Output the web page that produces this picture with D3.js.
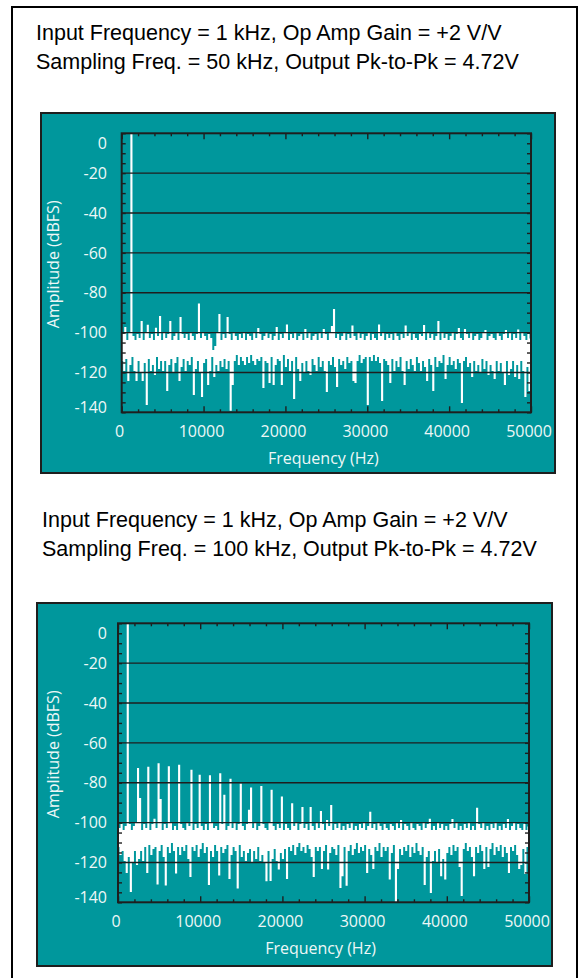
<!DOCTYPE html>
<html>
<head>
<meta charset="utf-8">
<script src="https://cdn.jsdelivr.net/npm/d3@7"></script>
<style>
  body { margin: 0; background: #fff; }
  .title { font-family: "Liberation Sans", Arial, sans-serif; font-size: 21.5px; fill: #000; }
  .axisText { font-family: "Open Sans", sans-serif; font-size: 16px; fill: #eef7f7; }
</style>
</head>
<body>
<div id="chart"></div>
<script>
// FFT bin spacing (Hz) for both captures, 400 bins from 0 to 49875 Hz
var binHz = 125;

var xTicks = [0, 10000, 20000, 30000, 40000, 50000];
var yTicks = [0, -20, -40, -60, -80, -100, -120, -140];
var gridLines = [-20, -40, -60, -80, -100, -120];

var titleTop = ["Input Frequency = 1 kHz, Op Amp Gain = +2 V/V",
                "Sampling Freq. = 50 kHz, Output Pk-to-Pk = 4.72V"];
var titleBottom = ["Input Frequency = 1 kHz, Op Amp Gain = +2 V/V",
                   "Sampling Freq. = 100 kHz, Output Pk-to-Pk = 4.72V"];

// amplitude (dBFS) per bin, 50 kHz capture (20 bins = 2.5 kHz per row)
var amp50k = [
  -114,-101,-119,-97.5,-113,-104,-124,-100.5,-116,0,-112,-102,-119,-104,-124,-101,-114,-103,-120,-94.5,
  -124,-104,-115,-100.5,-136,-96.3,-113,-103,-119,-101,-116,-104,-121,-97.8,-112,-102,-118,-92,-114,-104,
  -119,-100.5,-114,-103,-129,-101,-116,-94.5,-113,-104,-120,-102,-115,-100.5,-112,-104,-124,-92.5,-117,-101,
  -113,-103,-119,-101,-114,-104,-116,-100.5,-112,-102,-131,-104,-118,-101,-114,-85.7,-120,-103,-132,-100.5,
  -115,-102,-113,-104,-126,-101,-119,-103,-112,-109,-122,-107,-116,-100.5,-119,-91,-114,-104,-117,-101,
  -113,-103,-118,-92.5,-114,-101,-139,-104,-126,-100.5,-114,-102,-111,-104,-116,-101,-112,-103,-114,-100.5,
  -116,-104,-112,-101,-115,-102,-111,-104,-114,-100.5,-116,-103,-113,-98,-114,-101,-112,-104,-127.5,-102,
  -114,-100.5,-115,-103,-125,-101,-112,-104,-126,-102,-116,-97.5,-113,-104,-114,-101,-126,-103,-111,-100.5,
  -117,-96.2,-113,-104,-119,-101,-114,-103,-133,-100.5,-112,-104,-118,-102,-124,-101,-115,-104,-120,-98.5,
  -114,-103,-119,-100.5,-121,-104,-113,-102,-116,-101,-119,-104,-112,-100.5,-117,-103,-114,-98.5,-119,-101,
  -129.5,-104,-114,-100.5,-116,-97,-112,-88.5,-117,-103,-127,-101,-113,-104,-116,-102,-114,-100.5,-118,-104,
  -112,-101,-115,-103,-114,-96.7,-124,-102,-125,-104,-114,-100.5,-111,-103,-115,-101,-113,-104,-112,-102,
  -136,-100.5,-112,-104,-114,-101,-111,-103,-114,-104,-112,-96.2,-115,-102,-134,-100.5,-113,-104,-114,-101,
  -116,-103,-125,-101,-113,-104,-119,-100.5,-114,-102,-117,-104,-112,-101,-119,-103,-126,-96.7,-114,-102,
  -118,-100.5,-113,-104,-116,-101,-119,-103,-112,-104,-115,-101,-119,-102,-114,-96.5,-117,-104,-124,-100.5,
  -113,-103,-116,-101,-129,-104,-112,-102,-117,-94.5,-114,-104,-115,-100.5,-111,-103,-123,-101,-116,-104,
  -112,-102,-116,-100.5,-114,-104,-118,-101,-113,-98,-115,-103,-135,-104,-114,-98.5,-112,-101,-117,-103,
  -115,-100.5,-122,-104,-114,-102,-119,-101,-116,-104,-120,-103,-113,-100.5,-118,-99,-114,-104,-121,-102,
  -116,-101,-119,-103,-123,-104,-114,-100.5,-119,-102,-115,-104,-120,-101,-126,-99,-114,-103,-121,-100.5,
  -118,-104,-114,-101,-122,-103,-116,-98.7,-123,-104,-114,-100.5,-119,-102,-132,-104,-117,-101,-129,-103
];

// amplitude (dBFS) per bin, 100 kHz capture
var amp100k = [
  -112,-103,-116,-101,-114,-104,-119,-102,-125,0,-117,-101,-134.5,-104,-120,-102,-114,-100.5,-121,-72.9,
  -118,-88,-114,-104,-119,-101,-112,-103,-125,-72.2,-111,-104,-116,-101,-113,-98.3,-112,-103,-130.8,-70.5,
  -114,-88.5,-111,-104,-117,-101,-131.3,-103,-112,-72,-115,-100.5,-110,-104,-114,-102,-125.3,-104,-112,-71.2,
  -116,-101,-112,-103,-114,-104,-111,-100.5,-118,-102,-127,-73.8,-112,-104,-114,-101,-111,-103,-117,-76.3,
  -113,-102,-110,-104,-115,-101,-112,-104,-131,-76.5,-114,-100.5,-117,-103,-111,-102,-114,-104,-126.3,-75.5,
  -112,-101,-115,-86.3,-113,-104,-111,-102,-128,-78.3,-116,-103,-112,-100.5,-114,-104,-132.8,-101,-111,-80.7,
  -117,-102,-114,-104,-119,-101,-115,-93.8,-113,-82.7,-120,-103,-114,-100.5,-118,-104,-112,-102,-119,-81.9,
  -116,-101,-120,-103,-129.2,-104,-114,-100.5,-129,-83.8,-118,-102,-113,-104,-119,-101,-123.3,-103,-115,-87.2,
  -118,-104,-113,-101,-128,-103,-112,-104,-114,-90.6,-111,-102,-116,-100.5,-112,-104,-110,-101,-114,-92.5,
  -112,-103,-115,-101,-111,-104,-113,-92.5,-117,-102,-127,-104,-112,-100.5,-114,-103,-112,-94.5,-123,-101,
  -114,-104,-111,-99,-123.3,-102,-115,-91.5,-112,-104,-113,-101,-116,-103,-111,-100.5,-132.5,-104,-126.7,-102,
  -112,-104,-131.4,-101,-114,-103,-111,-100.5,-116,-104,-113,-102,-110,-104,-115,-101,-112,-103,-114,-100.5,
  -111,-104,-125,-102,-113,-94.8,-116,-103,-123,-101,-112,-104,-114,-100.5,-110,-102,-117,-104,-112,-101,
  -114,-103,-112,-104,-128.3,-101,-115,-102,-111,-104,-139.5,-100.5,-123,-103,-113,-99,-116,-104,-112,-101,
  -114,-102,-111,-104,-117,-100.5,-112,-103,-115,-104,-110,-101,-114,-102,-116,-104,-112,-100.5,-131,-103,
  -117,-101,-114,-98.3,-135,-104,-119,-102,-114,-104,-120,-100.5,-113,-103,-126.7,-101,-118,-104,-128.3,-102,
  -115,-104,-112,-101,-116,-98.5,-111,-103,-114,-100.5,-112,-104,-122,-102,-136.5,-104,-113,-101,-110,-103,
  -114,-100.5,-112,-104,-117,-102,-126.7,-104,-112,-92.8,-115,-101,-111,-103,-114,-100.5,-123,-104,-112,-102,
  -122,-104,-113,-101,-110,-103,-116,-100.5,-112,-104,-114,-102,-111,-104,-117,-101,-112,-103,-115,-98.5,
  -125,-104,-112,-102,-114,-100.5,-111,-104,-116,-101,-123,-103,-121,-104,-113,-101,-125.5,-104,-112,-102
];

var teal = "#00979c";
var dark = "#1e1e1e";

var svg = d3.select("#chart")
  .append("svg")
  .attr("width", 578)
  .attr("height", 978);

// page frame (open at the bottom)
svg.append("rect")
  .attr("x", 12).attr("y", 7)
  .attr("width", 565).attr("height", 1000)
  .attr("fill", "none")
  .attr("stroke", "#000")
  .attr("stroke-width", 2);

function drawTitle(lines, x, y0, step) {
  svg.selectAll(null).data(lines).enter().append("text")
    .attr("class", "title")
    .attr("x", x)
    .attr("y", (d, i) => y0 + i * step)
    .text(d => d);
}

function drawPanel(p, data, id) {
  var g = svg.append("g");

  g.append("rect")
    .attr("x", p.bx).attr("y", p.by)
    .attr("width", p.bw).attr("height", p.bh)
    .attr("fill", teal)
    .attr("stroke", dark)
    .attr("stroke-width", 2);

  var xScale = d3.scaleLinear().domain([0, 50000]).range([p.left, p.right]);
  var yScale = d3.scaleLinear().domain([-140, 0]).range([p.bottom, p.top]);

  g.append("clipPath").attr("id", id)
    .append("rect")
    .attr("x", p.left).attr("y", p.top)
    .attr("width", p.right - p.left).attr("height", p.bottom - p.top);

  // spectrum trace, drawn bin by bin
  var line = d3.line()
    .curve(d3.curveStepAfter)
    .x((d, i) => xScale(i * binHz))
    .y(d => yScale(d));

  g.append("path")
    .datum(data)
    .attr("d", line)
    .attr("fill", "none")
    .attr("stroke", "#fff")
    .attr("stroke-width", 1.1)
    .attr("clip-path", "url(#" + id + ")");

  // horizontal grid
  g.selectAll(null).data(gridLines).enter().append("line")
    .attr("x1", p.left).attr("x2", p.right)
    .attr("y1", d => yScale(d)).attr("y2", d => yScale(d))
    .attr("stroke", dark)
    .attr("stroke-width", 1.4);

  // inward ticks on all four sides
  var minorY = d3.range(-140, 1, 5);
  var minorX = d3.range(0, 50001, 2000).filter(d => d % 10000 !== 0);

  g.append("g").attr("transform", "translate(" + p.left + ",0)")
    .call(d3.axisLeft(yScale).tickValues(minorY).tickSize(-4).tickFormat(""));
  g.append("g").attr("transform", "translate(" + p.right + ",0)")
    .call(d3.axisRight(yScale).tickValues(minorY).tickSize(-4).tickFormat(""));
  g.append("g").attr("transform", "translate(0," + p.bottom + ")")
    .call(d3.axisBottom(xScale).tickValues(minorX).tickSize(-3).tickFormat(""));
  g.append("g").attr("transform", "translate(0," + p.bottom + ")")
    .call(d3.axisBottom(xScale).tickValues(xTicks).tickSize(-6).tickFormat(""));
  g.append("g").attr("transform", "translate(0," + p.top + ")")
    .call(d3.axisTop(xScale).tickValues(minorX).tickSize(-3).tickFormat(""));
  g.append("g").attr("transform", "translate(0," + p.top + ")")
    .call(d3.axisTop(xScale).tickValues(xTicks).tickSize(-6).tickFormat(""));

  g.selectAll(".domain").remove();
  g.selectAll(".tick line").attr("stroke", dark).attr("stroke-width", 1.4);

  // plot frame
  g.append("rect")
    .attr("x", p.left).attr("y", p.top)
    .attr("width", p.right - p.left).attr("height", p.bottom - p.top)
    .attr("fill", "none")
    .attr("stroke", dark)
    .attr("stroke-width", 2);

  // tick labels
  g.selectAll(null).data(yTicks).enter().append("text")
    .attr("class", "axisText")
    .attr("text-anchor", "end")
    .attr("x", p.labelX)
    .attr("y", d => yScale(d))
    .attr("dy", d => d === 0 ? "0.95em" : (d === -140 ? "0.05em" : "0.36em"))
    .text(d => d);

  g.selectAll(null).data(xTicks).enter().append("text")
    .attr("class", "axisText")
    .attr("text-anchor", "middle")
    .attr("x", d => xScale(d) - 2)
    .attr("y", p.bottom + 19)
    .attr("dy", "0.36em")
    .text(d => d);

  // axis titles
  g.append("text")
    .attr("class", "axisText")
    .attr("text-anchor", "middle")
    .attr("x", (p.left + p.right) / 2 - 3)
    .attr("y", p.xTitleY)
    .attr("dy", "0.36em")
    .text("Frequency (Hz)");

  g.append("text")
    .attr("class", "axisText")
    .attr("text-anchor", "middle")
    .attr("transform", "translate(53," + (p.top + 131) + ") rotate(-90)")
    .attr("dy", "0.36em")
    .text("Amplitude (dBFS)");
}

drawTitle(titleTop, 36, 40, 29);
drawTitle(titleBottom, 42, 527, 29);

drawPanel({bx: 41, by: 113, bw: 514, bh: 360,
           left: 121.7, top: 133.3, right: 531, bottom: 412.3,
           labelX: 107, xTitleY: 458}, amp50k, "clip50k");

drawPanel({bx: 37, by: 603, bw: 515, bh: 363,
           left: 118, top: 623.3, right: 529, bottom: 902.3,
           labelX: 107, xTitleY: 948}, amp100k, "clip100k");
</script>
</body>
</html>
